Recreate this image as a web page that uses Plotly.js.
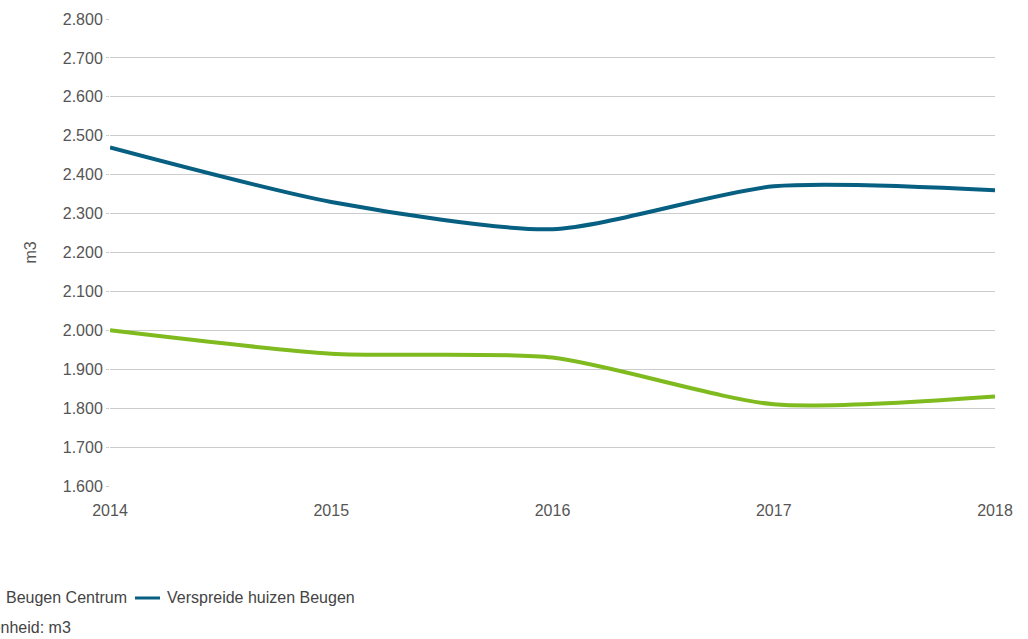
<!DOCTYPE html>
<html>
<head>
<meta charset="utf-8">
<script src="https://cdn.plot.ly/plotly-3.0.1.min.js"></script>
<style>
html,body{margin:0;padding:0;background:#fff;overflow:hidden;}
#chart{width:1028px;height:639px;}
</style>
</head>
<body>
<div id="chart"></div>
<script>
const years = [2014, 2015, 2016, 2017, 2018];
const seriesNames = ["Beugen Centrum", "Verspreide huizen Beugen"];
const centrumValues = [2000, 1940, 1930, 1810, 1830];
const verspreidValues = [2470, 2330, 2260, 2370, 2360];
const yTicks = [1600, 1700, 1800, 1900, 2000, 2100, 2200, 2300, 2400, 2500, 2600, 2700, 2800];
const unitLabel = "m3";
const footerText = "Eenheid: m3";
const colors = ["#7fba1f", "#075f82"];

const font = {family: "Liberation Sans, Arial, sans-serif", size: 16, color: "#555"};
const legendFont = {family: "Liberation Sans, Arial, sans-serif", size: 16, color: "#444"};

const traces = [
  {x: years, y: centrumValues, name: seriesNames[0], type: "scatter", mode: "lines",
   line: {color: colors[0], width: 4, shape: "spline", smoothing: 0.7}},
  {x: years, y: verspreidValues, name: seriesNames[1], type: "scatter", mode: "lines",
   line: {color: colors[1], width: 4, shape: "spline", smoothing: 0.7}}
];

const layout = {
  width: 1028, height: 639,
  margin: {l: 110, r: 33, t: 19, b: 153},
  paper_bgcolor: "#fff", plot_bgcolor: "#fff",
  font: font,
  separators: ",.",
  showlegend: false,
  xaxis: {range: [2014, 2018], tickvals: years, ticktext: years.map(String), automargin: false,
          showgrid: false, zeroline: false, showline: false,
          ticks: "outside", ticklen: 10, tickcolor: "rgba(0,0,0,0)", tickfont: font},
  yaxis: {range: [1600, 2800], tickvals: yTicks, tickformat: ",d", automargin: false,
          showgrid: true, gridcolor: "#cccccc", gridwidth: 1, zeroline: false, showline: false,
          ticks: "outside", ticklen: 3, tickcolor: "#cccccc", tickfont: font,
          title: {text: unitLabel, font: font, standoff: 22}},
  shapes: [
    {type: "line", xref: "paper", yref: "paper", x0: -0.1525, x1: -0.1243, y0: -0.2398, y1: -0.2398,
     line: {color: colors[0], width: 3}},
    {type: "line", xref: "paper", yref: "paper", x0: 0.0282, x1: 0.0565, y0: -0.2398, y1: -0.2398,
     line: {color: colors[1], width: 3}}
  ],
  annotations: [
    {xref: "paper", yref: "paper", x: -0.1197, y: -0.2398, xanchor: "left", yanchor: "middle",
     showarrow: false, text: seriesNames[0], font: legendFont},
    {xref: "paper", yref: "paper", x: 0.0621, y: -0.2398, xanchor: "left", yanchor: "middle",
     showarrow: false, text: seriesNames[1], font: legendFont},
    {xref: "paper", yref: "paper", x: -0.1480, y: -0.3040, xanchor: "left", yanchor: "middle",
     showarrow: false, text: footerText, font: legendFont}
  ]
};

Plotly.newPlot("chart", traces, layout, {displayModeBar: false, staticPlot: true});
</script>
</body>
</html>
